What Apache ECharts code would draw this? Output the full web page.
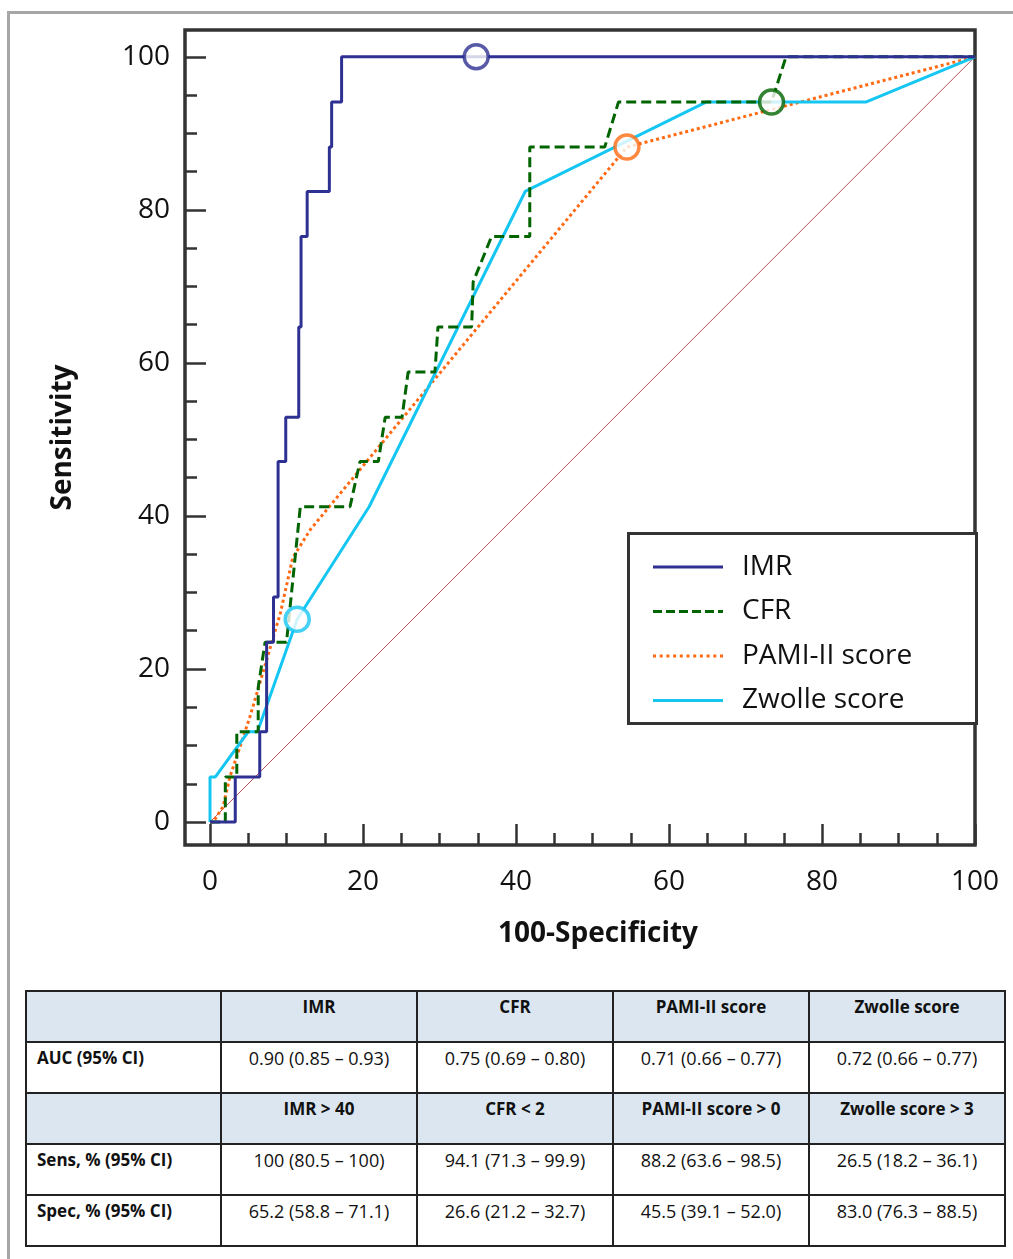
<!DOCTYPE html>
<html>
<head>
<meta charset="utf-8">
<script src="https://cdn.jsdelivr.net/npm/echarts@6/dist/echarts.min.js"></script>
<style>
body{margin:0;background:#fff;overflow:hidden;width:1013px;height:1259px;position:relative;font-family:"Open Sans","Noto Sans",sans-serif;color:#111;}
#frame{position:absolute;left:7px;top:11px;width:1100px;height:1400px;border:3px solid #a6a6a6;}
#chart{position:absolute;left:0;top:0;width:1013px;height:980px;}
#tbl{position:absolute;left:25px;top:990px;border-collapse:collapse;font-size:18px;line-height:24px;}
#tbl td{border:2px solid #222;width:196px;height:51px;box-sizing:border-box;vertical-align:top;text-align:center;padding:3px 0 0 0;}
#tbl td.lab{width:195px;text-align:left;padding-left:10px;font-weight:bold;font-size:17px;}
#tbl tr.hd td{background:#dce6f0;font-weight:bold;font-size:17px;}
</style>
</head>
<body>
<div id="frame"></div>
<div id="chart"></div>
<table id="tbl"></table>
<script>
// ROC curves: [100-specificity, sensitivity]
var imrPoints = [[0,0],[3.3,0],[3.3,5.9],[6.5,5.9],[6.5,11.8],[7.4,11.8],[7.4,23.5],[8.3,23.5],[8.3,29.4],[8.9,29.4],[8.9,47.1],[9.9,47.1],[9.9,52.9],[11.6,52.9],[11.6,64.7],[11.9,64.7],[11.9,76.5],[12.7,76.5],[12.7,82.4],[15.6,82.4],[15.6,88.2],[15.9,88.2],[15.9,94.1],[17.2,94.1],[17.2,100],[100,100]];
var cfrPoints = [[0,0],[2.0,0],[2.0,5.9],[3.5,5.9],[3.5,11.8],[6.3,11.8],[6.3,17.6],[7.2,23.5],[10.0,23.5],[11.8,41.2],[18.3,41.2],[19.6,47.1],[22.0,47.1],[22.9,52.9],[25.1,52.9],[25.9,58.8],[29.4,58.8],[29.8,64.7],[34.2,64.7],[34.4,70.6],[36.8,76.5],[41.8,76.5],[41.8,88.2],[51.6,88.2],[53.4,94.1],[73.4,94.1],[75.3,100],[100,100]];
var pamiPoints = [[0,0],[0.4,0],[1.7,2.0],[2.6,5.9],[5.2,13.7],[9.2,27.3],[10.8,34.5],[13.1,38.2],[54.5,88.2],[100,100]];
var zwollePoints = [[0,0],[0,5.9],[0.7,5.9],[5.0,11.8],[6.2,11.8],[11.4,26.5],[20.8,41.2],[41.2,82.4],[64.9,94.1],[85.8,94.1],[100,100]];
var diagPoints = [[0,0],[100,100]];

// optimal cut-off markers
var cutX = [34.8, 73.4, 54.5, 11.4];
var cutY = [100, 94.1, 88.2, 26.5];

var seriesNames = ['IMR', 'CFR', 'PAMI-II score', 'Zwolle score'];
var seriesColors = ['#2e3192', '#006400', '#ff6a13', '#16c6f2'];

var majorTicks = [0, 20, 40, 60, 80, 100];
var minorTicks = [5,10,15,25,30,35,45,50,55,65,70,75,85,90,95];

// table
var colHeads = ['IMR', 'CFR', 'PAMI-II score', 'Zwolle score'];
var aucVals = ['0.90 (0.85 \u2013 0.93)', '0.75 (0.69 \u2013 0.80)', '0.71 (0.66 \u2013 0.77)', '0.72 (0.66 \u2013 0.77)'];
var cutHeads = ['IMR > 40', 'CFR < 2', 'PAMI-II score > 0', 'Zwolle score > 3'];
var sensVals = ['100 (80.5 \u2013 100)', '94.1 (71.3 \u2013 99.9)', '88.2 (63.6 \u2013 98.5)', '26.5 (18.2 \u2013 36.1)'];
var specVals = ['65.2 (58.8 \u2013 71.1)', '26.6 (21.2 \u2013 32.7)', '45.5 (39.1 \u2013 52.0)', '83.0 (76.3 \u2013 88.5)'];

var ff = '"Open Sans","Noto Sans",sans-serif';

function addRow(label, vals, cls) {
	var tr = document.createElement('tr');
	if (cls) tr.className = cls;
	var td = document.createElement('td');
	td.className = 'lab';
	td.textContent = label;
	tr.appendChild(td);
	for (var i = 0; i < vals.length; i++) {
		var c = document.createElement('td');
		c.textContent = vals[i];
		tr.appendChild(c);
	}
	document.getElementById('tbl').appendChild(tr);
}
addRow('', colHeads, 'hd');
addRow('AUC (95% CI)', aucVals);
addRow('', cutHeads, 'hd');
addRow('Sens, % (95% CI)', sensVals);
addRow('Spec, % (95% CI)', specVals);

var myChart = echarts.init(document.getElementById('chart'));

var tickLine = { color: '#333', width: 2.5 };
function axisPair(isX) {
	var lo = isX ? -3.27 : -3.0;
	var hi = isX ? 100 : 103.5;
	var main = {
		type: 'value', min: lo, max: hi,
		position: isX ? 'bottom' : 'left',
		axisLine: { show: false, onZero: false },
		splitLine: { show: false },
		axisTick: { inside: true, length: 21, customValues: majorTicks, lineStyle: tickLine },
		axisLabel: { customValues: majorTicks, fontSize: 28, color: '#111', fontFamily: ff, margin: isX ? 23 : 15 }
	};
	var minor = {
		type: 'value', min: lo, max: hi,
		position: isX ? 'bottom' : 'left',
		axisLine: { show: false, onZero: false },
		splitLine: { show: false },
		axisTick: { inside: true, length: 12, customValues: minorTicks, lineStyle: tickLine },
		axisLabel: { show: false }
	};
	return [main, minor];
}
var xAxes = axisPair(true);
xAxes[0].name = '100-Specificity';
xAxes[0].nameLocation = 'middle';
xAxes[0].nameGap = 75;
xAxes[0].nameTextStyle = { fontSize: 28, fontWeight: 'bold', color: '#111', fontFamily: ff, padding: [0, 0, 0, 36] };
var yAxes = axisPair(false);
yAxes[0].name = 'Sensitivity';
yAxes[0].nameLocation = 'middle';
yAxes[0].nameGap = 108;
yAxes[0].nameTextStyle = { fontSize: 28, fontWeight: 'bold', color: '#111', fontFamily: ff };

// legend line samples (70 x 3 box)
var solidIcon = 'rect';
var dashIcon = 'path://M0,0h9v3h-9z M13,0h9v3h-9z M26,0h9v3h-9z M39,0h9v3h-9z M52,0h9v3h-9z M65,0h5v3h-5z';
var dotIcon = 'path://M0,0h3v3h-3z M6.7,0h3v3h-3z M13.4,0h3v3h-3z M20.1,0h3v3h-3z M26.8,0h3v3h-3z M33.5,0h3v3h-3z M40.2,0h3v3h-3z M46.9,0h3v3h-3z M53.6,0h3v3h-3z M60.3,0h3v3h-3z M67,0h3v3h-3z';
var legendIcons = [solidIcon, dashIcon, dotIcon, solidIcon];

function curve(name, pts, color, type, z) {
	return {
		name: name, type: 'line', data: pts, symbol: 'none', z: z,
		lineStyle: { color: color, width: 3, type: type },
		itemStyle: { color: color }
	};
}

var markerData = [];
for (var i = 0; i < cutX.length; i++) {
	markerData.push({ value: [cutX[i], cutY[i]], itemStyle: { color: '#fff', borderColor: seriesColors[i], borderWidth: 3.5 } });
}

var legendData = [];
for (var k = 0; k < seriesNames.length; k++) {
	legendData.push({ name: seriesNames[k], icon: legendIcons[k] });
}

var option = {
	animation: false,
	grid: { left: 185, top: 30, right: 38, bottom: 135, show: true, borderColor: '#333', borderWidth: 3.5 },
	xAxis: xAxes,
	yAxis: yAxes,
	legend: {
		data: legendData,
		orient: 'vertical',
		left: 648, top: 547,
		itemWidth: 70, itemHeight: 3, itemGap: 14.5,
		selectedMode: false,
		textStyle: { fontSize: 28, lineHeight: 30, color: '#111', fontFamily: ff, padding: [0, 0, 0, 14] }
	},
	graphic: [{
		type: 'rect', left: 627, top: 532, z: 1,
		shape: { width: 348, height: 190 },
		style: { fill: '#fff', stroke: '#333', lineWidth: 3 }
	}],
	series: [
		{ name: 'ref', type: 'line', data: diagPoints, symbol: 'none', silent: true, z: 1,
			lineStyle: { color: '#a8404a', width: 0.9 } },
		curve('PAMI-II score', pamiPoints, seriesColors[2], [3, 3], 2),
		curve('Zwolle score', zwollePoints, seriesColors[3], 'solid', 3),
		curve('CFR', cfrPoints, seriesColors[1], [10, 5], 4),
		curve('IMR', imrPoints, seriesColors[0], 'solid', 5),
		{ name: 'cut-off', type: 'scatter', symbol: 'circle', symbolSize: 24, z: 6, data: markerData }
	]
};
myChart.setOption(option);
</script>
</body>
</html>
